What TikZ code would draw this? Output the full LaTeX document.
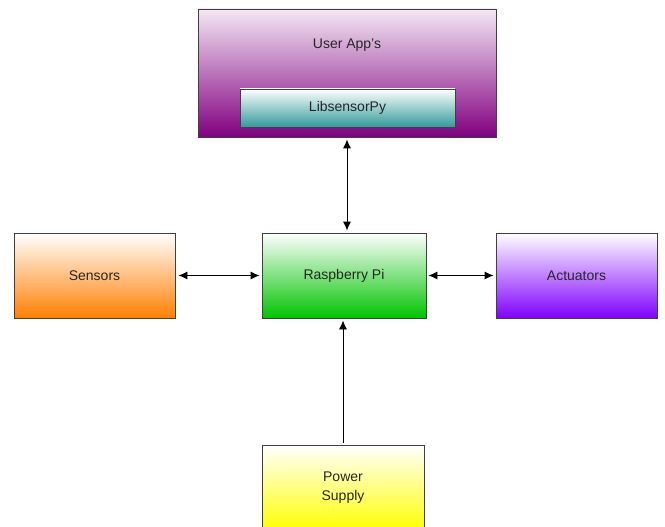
\documentclass[tikz,border=0pt]{standalone}
\usepackage{fontspec}
\setmainfont{Liberation Sans}
\usetikzlibrary{%
  arrows.meta,%
  positioning,%
  calc%
}
\definecolor{appbot}{HTML}{800080}
\definecolor{appTop}{HTML}{F4E8F4}
\definecolor{libbot}{HTML}{339A9A}
\definecolor{sensbot}{HTML}{FF8000}
\definecolor{rpibot}{HTML}{00C400}
\definecolor{actbot}{HTML}{8000FF}
\definecolor{pwrbot}{HTML}{FFFF00}
\definecolor{edge}{HTML}{404040}

\begin{document}
\begin{tikzpicture}[
  x=1pt, y=-1pt,
  font=\fontsize{14}{19}\selectfont,
  >={Latex[length=9pt,width=8pt]},
  line width=0.9pt,
  box/.style={draw=edge, line width=0.9pt, inner sep=0pt,
    text=black!85, align=center, top color=white},
]
\useasboundingbox (0,0) rectangle (665,527);

\node[box, bottom color=appbot, top color=appTop,
  minimum width=298pt, minimum height=128pt] (app) at (347,73) {};
\node[text=black!85] (apptitle) at (347,45) {User App's};
\node[box, bottom color=libbot, minimum width=215pt, minimum height=38pt]
  (lib) at (347.5,108) {LibsensorPy};

\node[box, bottom color=sensbot, minimum width=161pt, minimum height=85pt]
  (sensors) at (94.5,275.5) {Sensors};
\node[box, bottom color=rpibot, minimum width=164pt, minimum height=85pt]
  (rpi) at (344,275.5) {Raspberry Pi};
\node[box, bottom color=actbot, minimum width=161pt, minimum height=85pt]
  (act) at (576.5,275.5) {Actuators};
\node[box, bottom color=pwrbot, minimum width=162pt, minimum height=85pt]
  (power) at (343,488) {Power\\Supply};

\draw [<->, shorten <=2pt, shorten >=2pt] (app.south) -- (app.south |- rpi.north);
\draw [<->, shorten <=3pt, shorten >=2pt] (sensors.east) -- (rpi.west);
\draw [<->, shorten <=2pt, shorten >=2pt] (rpi.east) -- (act.west);
\draw [->, shorten <=2pt, shorten >=2pt] (power.north) -- (power.north |- rpi.south);

\end{tikzpicture}
\end{document}
